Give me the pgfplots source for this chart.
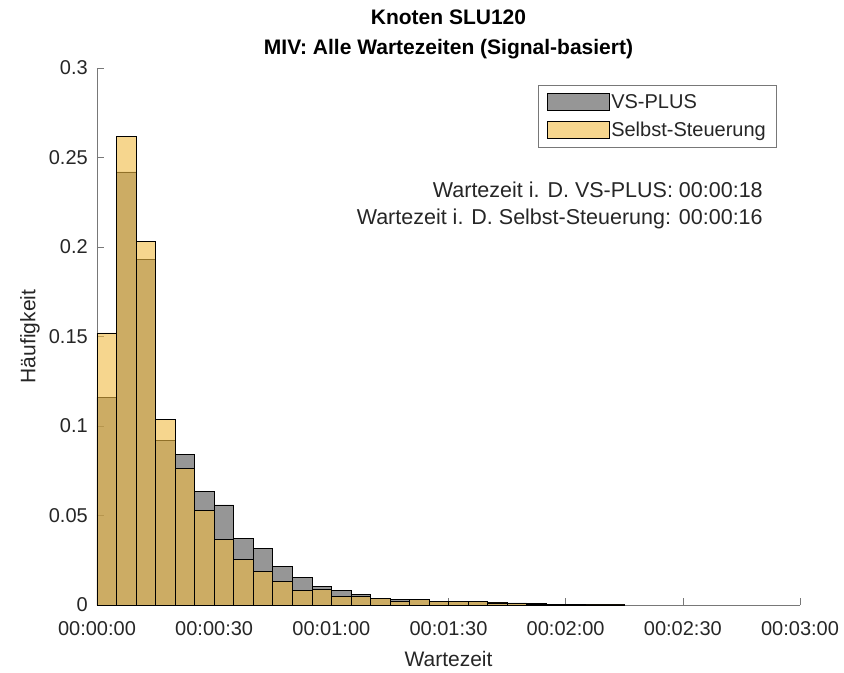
\documentclass[border=0pt]{standalone}
\usepackage{fontspec}
\setmainfont{Liberation Sans}
\usepackage{pgfplots}
\usepackage{pgfplotstable}
\pgfplotsset{compat=1.18}
\definecolor{vsgray}{RGB}{80,80,80}
\definecolor{selbst}{RGB}{240,187,67}
\definecolor{axgray}{RGB}{120,120,120}
\definecolor{txt}{RGB}{38,38,38}

\pgfplotstableread{
x y
0 0.116
5 0.242
10 0.193
15 0.092
20 0.0843
25 0.0635
30 0.0559
35 0.0374
40 0.0317
45 0.0214
50 0.0155
55 0.0102
60 0.0080
65 0.0061
70 0.0037
75 0.0032
80 0.0032
85 0.0020
90 0.0018
95 0.0020
100 0.0015
105 0.0012
110 0.0009
115 0.0005
120 0.0003
125 0.0002
130 0.0002
135 0
}\vsdata

\pgfplotstableread{
x y
0 0.152
5 0.262
10 0.203
15 0.1035
20 0.0763
25 0.0527
30 0.0367
35 0.0255
40 0.0186
45 0.0132
50 0.0080
55 0.0089
60 0.0048
65 0.0047
70 0.0035
75 0.0022
80 0.0030
85 0.0018
90 0.0020
95 0.0018
100 0.0012
105 0.0010
110 0.0005
115 0.0003
120 0.0002
125 0.0001
130 0.0001
135 0
}\selbstdata

\begin{document}
\begin{tikzpicture}
\useasboundingbox (-97bp,-68bp) rectangle (747bp,605bp);
\begin{axis}[
  at={(0,0)}, anchor=south west,
  scale only axis, width=703bp, height=537bp,
  xmin=0, xmax=180, ymin=0, ymax=0.3,
  axis x line*=bottom, axis y line*=left,
  axis line style={draw=axgray, line width=0.6bp},
  tick style={draw=axgray, line width=0.6bp},
  tick align=inside, major tick length=7bp,
  xtick={0,30,60,90,120,150,180},
  xticklabels={00:00:00,00:00:30,00:01:00,00:01:30,00:02:00,00:02:30,00:03:00},
  ytick={0,0.05,0.1,0.15,0.2,0.25,0.3},
  yticklabels={0,0.05,0.1,0.15,0.2,0.25,0.3},
  xticklabel style={font=\fontsize{20bp}{24bp}\selectfont, text=txt, inner sep=0pt, anchor=north, yshift=-16bp},
  yticklabel style={font=\fontsize{20bp}{24bp}\selectfont, text=txt, inner sep=0pt, anchor=east, xshift=-9bp},
  xlabel={Wartezeit},
  ylabel={Häufigkeit},
  xlabel style={font=\fontsize{21bp}{25bp}\selectfont, text=txt, inner sep=0pt, at={(axis description cs:0.5,-0.0857)}, anchor=north},
  ylabel style={font=\fontsize{21bp}{25bp}\selectfont, text=txt, inner sep=0pt, at={(axis description cs:-0.0953,0.5)}, anchor=center},
  title={Knoten SLU120\\MIV: Alle Wartezeiten (Signal-basiert)},
  title style={font=\bfseries\fontsize{21bp}{30bp}\selectfont, text=black, align=center, inner sep=0pt, at={(axis description cs:0.5,1)}, anchor=south, yshift=3bp},
  legend style={at={(rel axis cs:0.966,0.968)}, anchor=north east, draw=axgray, fill=white,
    font=\fontsize{20bp}{24bp}\selectfont, text=txt, inner xsep=8bp, inner ysep=7bp, row sep=8bp,
    cells={anchor=west}, line width=0.6bp},
  legend image code/.code={\draw[#1] (0bp,-8.5bp) rectangle (62bp,8.5bp);},
  clip=false,
]
\addplot[ybar interval, fill=vsgray, fill opacity=0.6, draw=black, line width=0.6bp] table[x=x,y=y] {\vsdata};
\addlegendentry{VS-PLUS}
\addplot[ybar interval, fill=selbst, fill opacity=0.6, draw=black, line width=0.6bp] table[x=x,y=y] {\selbstdata};
\addlegendentry{Selbst-Steuerung}
\node[anchor=base east, inner sep=0pt, font=\fontsize{21.5bp}{25bp}\selectfont, text=txt] at (axis cs:170.5,0.2279) {Wartezeit i. D. VS-PLUS: 00:00:18};
\node[anchor=base east, inner sep=0pt, font=\fontsize{21.5bp}{25bp}\selectfont, text=txt] at (axis cs:170.5,0.2123) {Wartezeit i. D. Selbst-Steuerung: 00:00:16};
\end{axis}
\end{tikzpicture}
\end{document}
